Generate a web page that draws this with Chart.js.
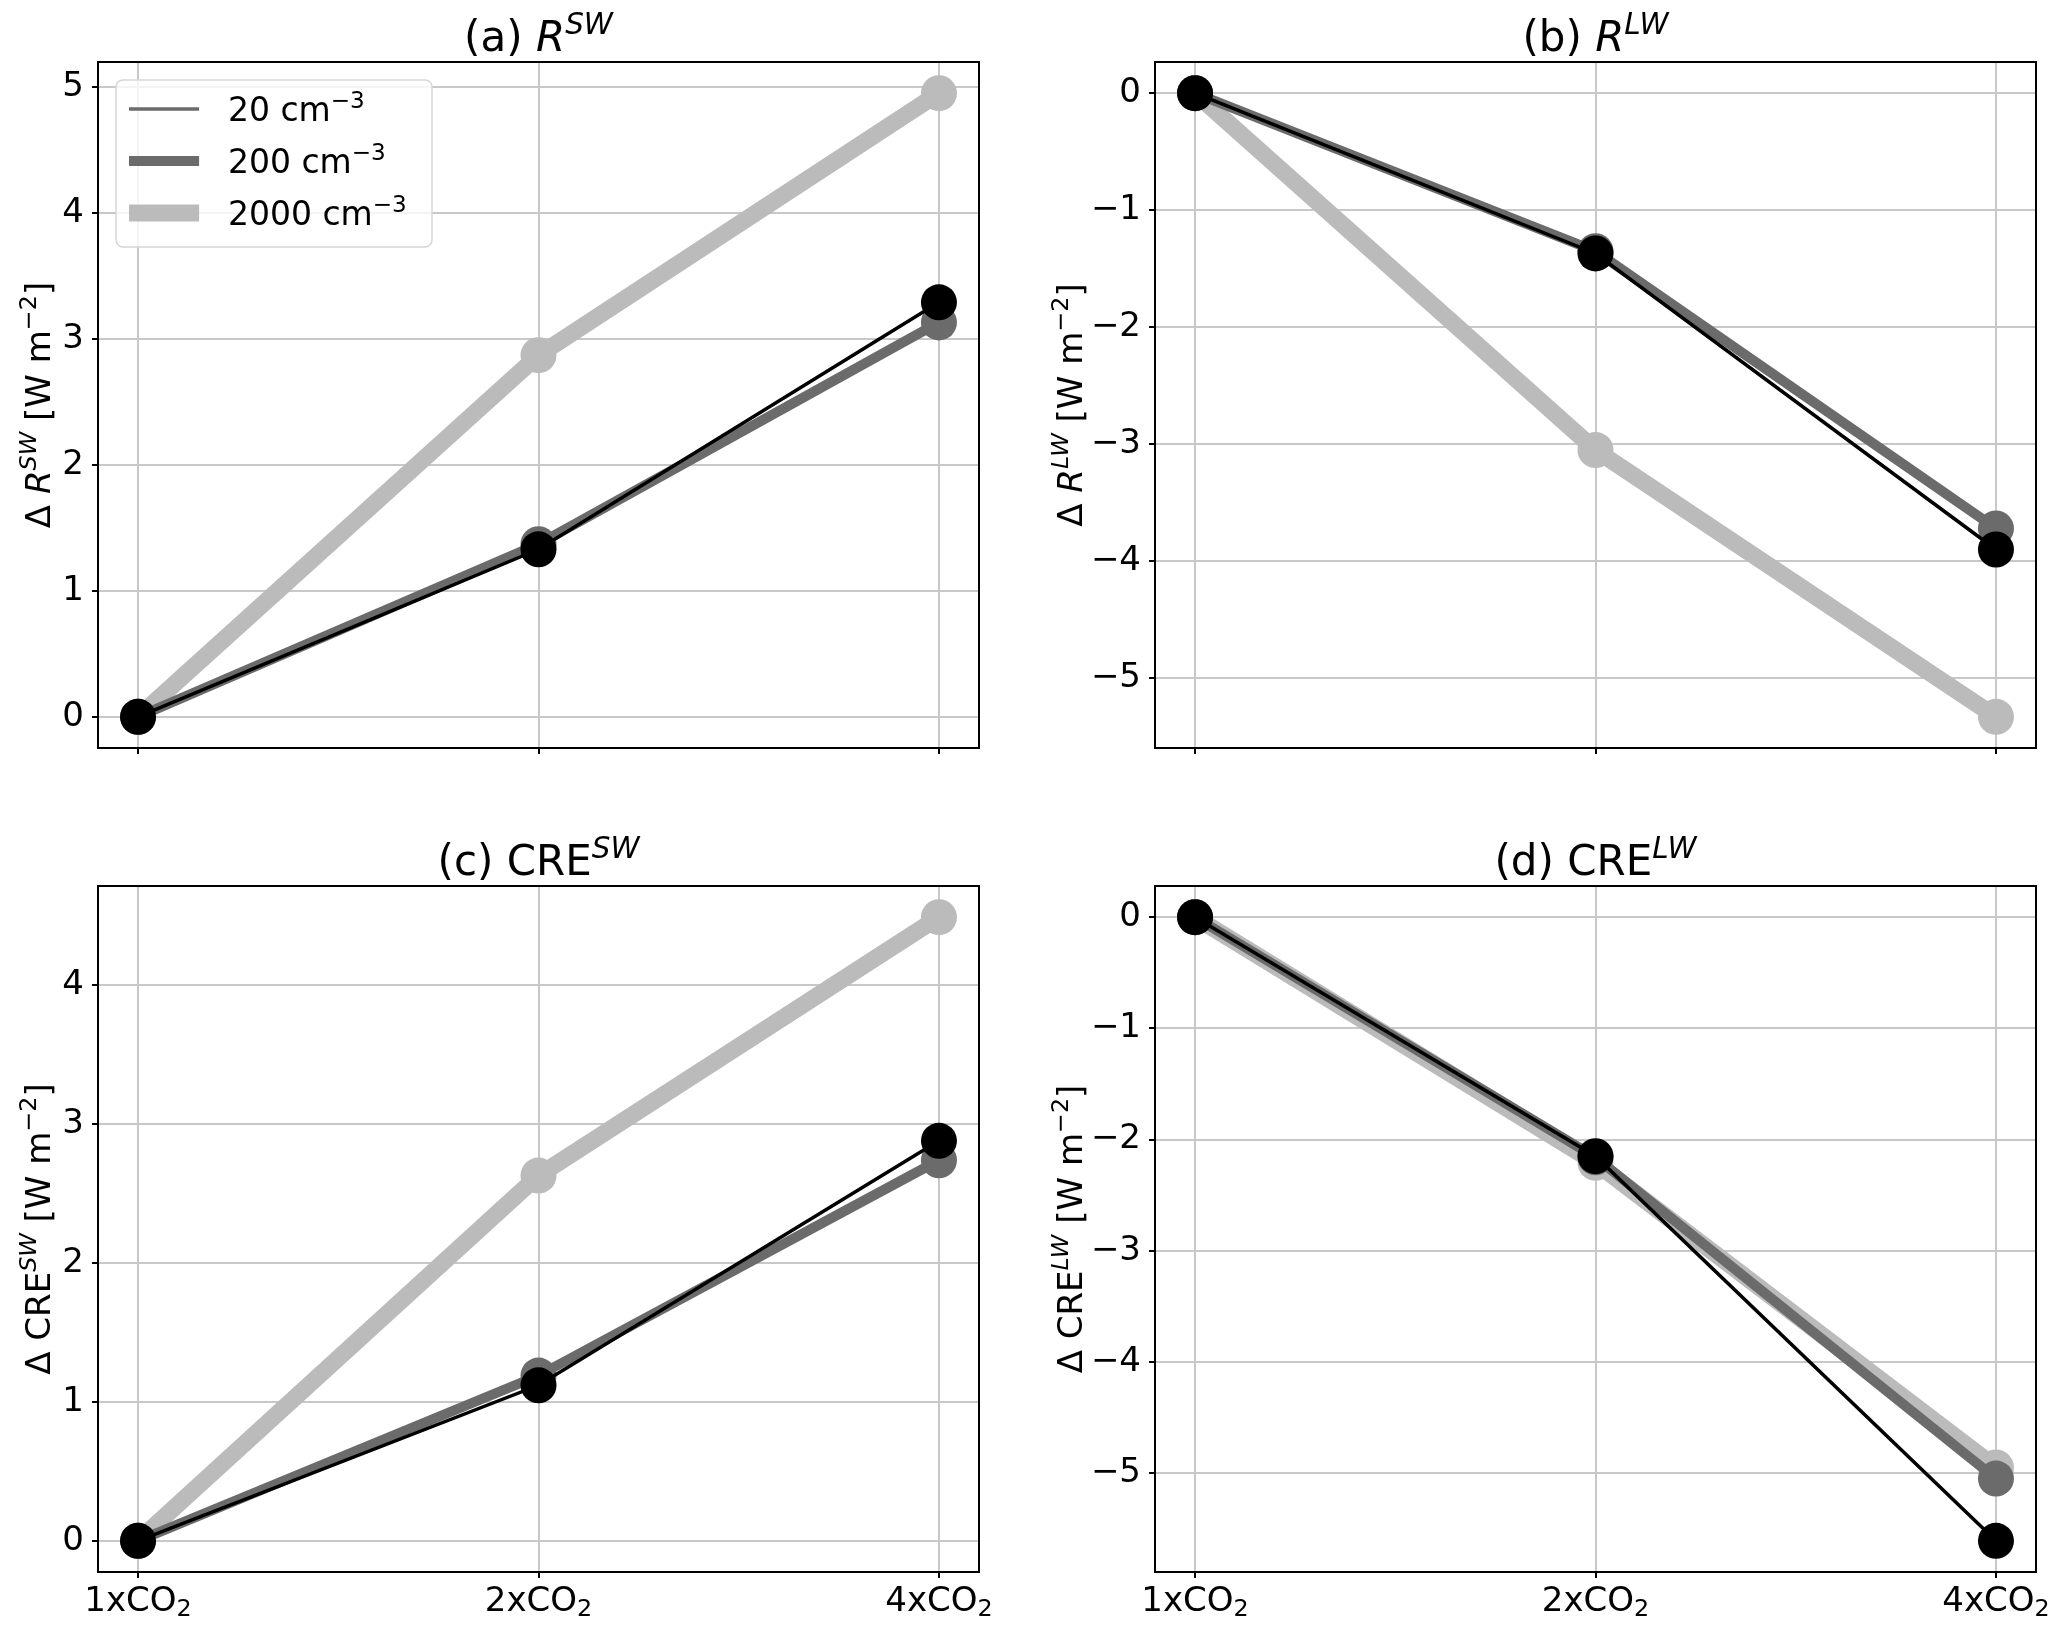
<!DOCTYPE html>
<html>
<head>
<meta charset="utf-8">
<script src="https://cdn.jsdelivr.net/npm/chart.js@4.4.1/dist/chart.umd.min.js"></script>
<style>
  html, body { margin: 0; padding: 0; background: #fff; overflow: hidden; }
  #fig { position: relative; width: 2067px; height: 1629px; overflow: hidden; background: #fff; }
  #fig canvas { position: absolute; }
</style>
</head>
<body>
<div id="fig">
  <canvas id="pa" width="1009" height="805" style="left:0px;top:0px;width:1009px;height:805px"></canvas>
  <canvas id="pb" width="1041" height="805" style="left:1025px;top:0px;width:1041px;height:805px"></canvas>
  <canvas id="pc" width="1009" height="805" style="left:0px;top:824px;width:1009px;height:805px"></canvas>
  <canvas id="pd" width="1041" height="805" style="left:1025px;top:824px;width:1041px;height:805px"></canvas>
</div>
<script>
// experiments on the x axis (drawn as "1xCO" + subscript "2")
const scenarios = ['1xCO', '2xCO', '4xCO'];
const scenarioSub = '2';
const concLabels = ['20', '200', '2000'];

// (a) R^SW
const rsw20 = [0, 1.33, 3.29];
const rsw200 = [0, 1.37, 3.13];
const rsw2000 = [0, 2.87, 4.95];
// (b) R^LW
const rlw20 = [0, -1.37, -3.90];
const rlw200 = [0, -1.35, -3.72];
const rlw2000 = [0, -3.05, -5.33];
// (c) CRE^SW
const cresw20 = [0, 1.12, 2.88];
const cresw200 = [0, 1.19, 2.74];
const cresw2000 = [0, 2.63, 4.49];
// (d) CRE^LW
const crelw20 = [0, -2.15, -5.61];
const crelw200 = [0, -2.16, -5.05];
const crelw2000 = [0, -2.21, -4.95];

const FONT = '"DejaVu Sans"';
Chart.defaults.font.family = FONT;
Chart.defaults.color = '#000';

// line styles per concentration (20 on top)
const styles = [
  { line: '#000000', mark: '#000000', lw: 3.5, legend: '#6b6b6b' },
  { line: '#6b6b6b', mark: '#6b6b6b', lw: 10, legend: '#6b6b6b' },
  { line: '#bbbbbb', mark: '#bbbbbb', lw: 17, legend: '#bbbbbb' }
];

// text with italic / superscript / subscript pieces
function richWidth(ctx, parts, size) {
  let w = 0;
  parts.forEach(p => {
    ctx.font = (p.i ? 'italic ' : '') + ((p.sup || p.sub) ? size * 0.7 : size) + 'px ' + FONT;
    w += ctx.measureText(p.t).width;
  });
  return w;
}
function drawRich(ctx, parts, x, y, size, align) {
  let cx = x;
  const w = richWidth(ctx, parts, size);
  if (align === 'center') cx = x - w / 2;
  ctx.textBaseline = 'alphabetic';
  ctx.textAlign = 'left';
  ctx.fillStyle = '#000';
  parts.forEach(p => {
    const s = (p.sup || p.sub) ? size * 0.7 : size;
    ctx.font = (p.i ? 'italic ' : '') + s + 'px ' + FONT;
    let yy = y;
    if (p.sup) yy = y - size * 0.4;
    if (p.sub) yy = y + size * 0.16;
    ctx.fillText(p.t, cx, yy);
    cx += ctx.measureText(p.t).width;
  });
}

function makePanel(id, title, ylabel, series, showX, ylabOffset, yWidth, withLegend) {
  const all = series.flat();
  const lo = Math.min(...all), hi = Math.max(...all);
  const pad = 0.05 * (hi - lo);

  const panelText = {
    id: 'panelText_' + id,
    afterDatasetsDraw(chart) {
      const ctx = chart.ctx, a = chart.chartArea;
      ctx.save();
      // frame on all four sides
      ctx.strokeStyle = '#000';
      ctx.lineWidth = 2;
      ctx.strokeRect(a.left, a.top, a.right - a.left, a.bottom - a.top);
      // title
      drawRich(ctx, title, (a.left + a.right) / 2, a.top - 11, 42, 'center');
      // x tick labels (bottom row only)
      if (showX) {
        const xs = chart.scales.x;
        scenarios.forEach((c, i) => {
          drawRich(ctx, [{ t: c }, { t: scenarioSub, sub: true }], xs.getPixelForValue(i), a.bottom + 39, 34, 'center');
        });
      }
      // y label
      ctx.translate(a.left - ylabOffset, (a.top + a.bottom) / 2);
      ctx.rotate(-Math.PI / 2);
      drawRich(ctx, ylabel, 0, 12, 34, 'center');
      ctx.restore();

      if (withLegend) {
        ctx.save();
        const bx = a.left + 18, by = a.top + 18, bw = 316, bh = 167;
        ctx.beginPath();
        ctx.roundRect(bx, by, bw, bh, 7);
        ctx.fillStyle = 'rgba(255,255,255,0.8)';
        ctx.fill();
        ctx.strokeStyle = '#d6d6d6';
        ctx.lineWidth = 1.5;
        ctx.stroke();
        styles.forEach((st, k) => {
          const yy = by + 29 + k * 52;
          ctx.beginPath();
          ctx.strokeStyle = st.legend;
          ctx.lineWidth = st.lw;
          ctx.lineCap = 'square';
          ctx.moveTo(bx + 13 + st.lw / 2, yy);
          ctx.lineTo(bx + 83 - st.lw / 2 + 0.1, yy);
          ctx.stroke();
          drawRich(ctx, [{ t: concLabels[k] + ' cm' }, { t: '\u22123', sup: true }], bx + 112, yy + 12, 33, 'left');
        });
        ctx.restore();
      }
    }
  };

  const datasets = series.map((vals, k) => ({
    label: concLabels[k] + ' cm-3',
    data: vals.map((v, i) => ({ x: i, y: v })),
    borderColor: styles[k].line,
    borderWidth: styles[k].lw,
    backgroundColor: styles[k].mark,
    pointBackgroundColor: styles[k].mark,
    pointBorderWidth: 0,
    pointRadius: 18,
    pointHoverRadius: 18,
    tension: 0,
    fill: false,
    clip: 30
  }));

  const gridOpts = { color: '#c8c8c8', lineWidth: 2, tickLength: 6, tickColor: '#000', tickWidth: 2 };

  return new Chart(document.getElementById(id), {
    type: 'line',
    data: { datasets },
    options: {
      responsive: false,
      animation: false,
      devicePixelRatio: 1,
      layout: { padding: { top: 62, right: 30, left: 0, bottom: 0 } },
      plugins: { legend: { display: false }, tooltip: { enabled: false } },
      events: [],
      scales: {
        x: {
          type: 'linear', min: -0.1, max: 2.1,
          afterBuildTicks: s => { s.ticks = scenarios.map((c, i) => ({ value: i })); },
          afterFit: s => { s.height = 57; },
          grid: gridOpts,
          border: { color: '#000', width: 2 },
          ticks: { padding: 8, font: { size: 34 }, maxRotation: 0, autoSkip: false, callback: () => '' }
        },
        y: {
          type: 'linear', min: lo - pad, max: hi + pad,
          afterBuildTicks: s => {
            const t = [];
            for (let v = Math.ceil(s.min); v <= Math.floor(s.max); v++) t.push({ value: v });
            s.ticks = t;
          },
          afterFit: s => { s.width = yWidth; },
          grid: gridOpts,
          border: { color: '#000', width: 2 },
          ticks: {
            padding: 8, color: '#000', font: { size: 34 },
            callback: v => v < 0 ? '\u2212' + Math.abs(v) : String(v)
          }
        }
      }
    },
    plugins: [panelText]
  });
}

const ylabR = sup => [{ t: '\u0394 ' }, { t: 'R', i: true }, { t: sup, i: true, sup: true }, { t: ' [W m' }, { t: '\u22122', sup: true }, { t: ']' }];
const ylabC = sup => [{ t: '\u0394 CRE' }, { t: sup, i: true, sup: true }, { t: ' [W m' }, { t: '\u22122', sup: true }, { t: ']' }];

makePanel('pa', [{ t: '(a) ' }, { t: 'R', i: true }, { t: 'SW', i: true, sup: true }], ylabR('SW'),
  [rsw20, rsw200, rsw2000], false, 60, 98, true);
makePanel('pb', [{ t: '(b) ' }, { t: 'R', i: true }, { t: 'LW', i: true, sup: true }], ylabR('LW'),
  [rlw20, rlw200, rlw2000], false, 85, 130, false);
makePanel('pc', [{ t: '(c) CRE' }, { t: 'SW', i: true, sup: true }], ylabC('SW'),
  [cresw20, cresw200, cresw2000], true, 60, 98, false);
makePanel('pd', [{ t: '(d) CRE' }, { t: 'LW', i: true, sup: true }], ylabC('LW'),
  [crelw20, crelw200, crelw2000], true, 85, 130, false);
</script>
</body>
</html>
